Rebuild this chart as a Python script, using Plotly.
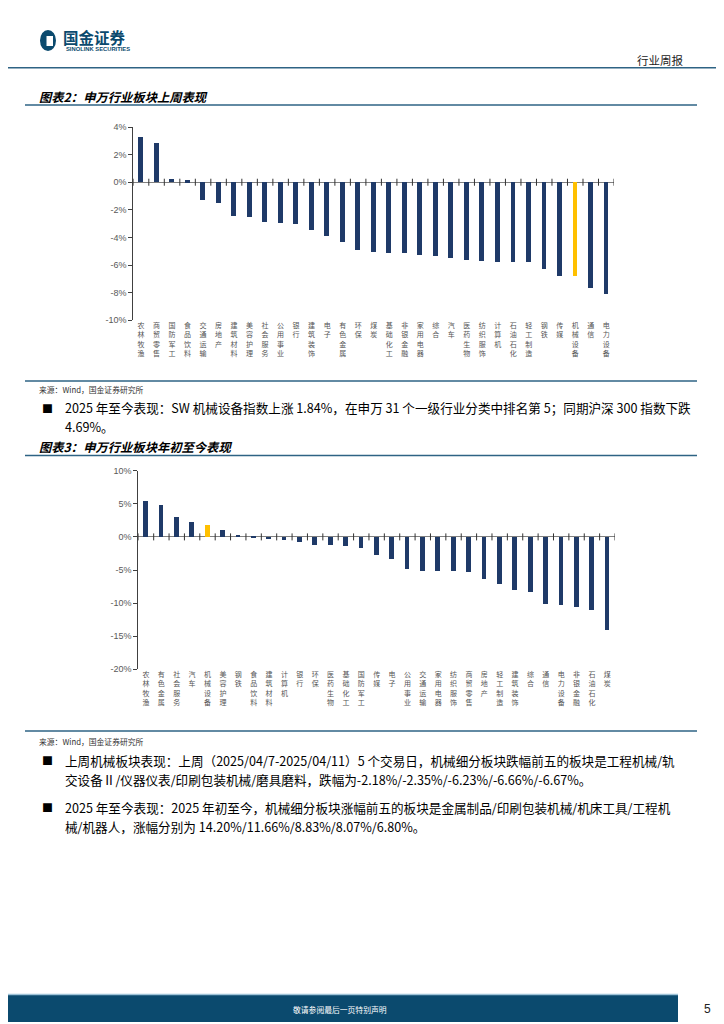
import plotly.graph_objects as go

# ---------------- data ----------------
week_categories = ["农林牧渔", "商贸零售", "国防军工", "食品饮料", "交通运输", "房地产", "建筑材料", "美容护理",
                   "社会服务", "公用事业", "银行", "建筑装饰", "电子", "有色金属", "环保", "煤炭", "基础化工",
                   "非银金融", "家用电器", "综合", "汽车", "医药生物", "纺织服饰", "计算机", "石油石化",
                   "轻工制造", "钢铁", "传媒", "机械设备", "通信", "电力设备"]
week_values = [3.25, 2.87, 0.24, 0.14, -1.28, -1.47, -2.41, -2.53, -2.87, -2.92, -3.06, -3.45, -3.93,
               -4.36, -4.92, -5.04, -5.16, -5.16, -5.30, -5.37, -5.49, -5.61, -5.71, -5.76, -5.81,
               -5.81, -6.27, -6.82, -6.82, -7.69, -8.07]

ytd_categories = ["农林牧渔", "有色金属", "社会服务", "汽车", "机械设备", "美容护理", "钢铁", "食品饮料",
                  "建筑材料", "计算机", "银行", "环保", "医药生物", "基础化工", "国防军工", "传媒", "电子",
                  "公用事业", "交通运输", "家用电器", "纺织服饰", "商贸零售", "房地产", "轻工制造",
                  "建筑装饰", "综合", "通信", "电力设备", "非银金融", "石油石化", "煤炭"]
ytd_values = [5.43, 4.92, 3.12, 2.31, 1.84, 1.16, 0.35, 0.20, -0.25, -0.35, -0.65, -1.20, -1.20, -1.40,
              -1.70, -2.70, -3.27, -4.87, -5.03, -5.03, -5.18, -5.33, -6.38, -7.14, -7.94, -8.34,
              -10.10, -10.25, -10.55, -11.06, -14.07]

week_ticks = [4, 2, 0, -2, -4, -6, -8, -10]
ytd_ticks = [10, 5, 0, -5, -10, -15, -20]
highlight = "机械设备"

# page is 724x1024; the figure sits inside the default 8px body margin
OFF = 8
W, H = 724 - OFF, 1024 - OFF
NAVY = "#1f3a68"
GOLD = "#ffc000"
TEAL = "#2e6384"


def px(x):
    return (x - OFF) / W


def py(y):
    return 1 - (y - OFF) / H


fig = go.Figure()


def add_chart(cats, vals, ticks, xa, ya, xdom, ydom):
    n = len(cats)
    xs = list(range(n))
    colors = [GOLD if c == highlight else NAVY for c in cats]
    fig.add_trace(go.Bar(x=xs, y=vals, width=0.31, marker=dict(color=colors, line=dict(width=0)),
                         xaxis=xa, yaxis=ya, showlegend=False, hoverinfo="skip"))
    # small marks on the zero line at category boundaries
    fig.add_trace(go.Scatter(x=[i - 0.5 for i in range(n + 1)], y=[0] * (n + 1), mode="markers",
                             marker=dict(symbol="line-ns", size=5, line=dict(width=1, color="#333333")),
                             xaxis=xa, yaxis=ya, showlegend=False, hoverinfo="skip"))
    xkey = "xaxis" if xa == "x" else "xaxis" + xa[1:]
    ykey = "yaxis" if ya == "y" else "yaxis" + ya[1:]
    fig.update_layout({
        xkey: dict(domain=xdom, anchor=ya, range=[-0.5, n - 0.5], tickvals=xs,
                   ticktext=["<br>".join(list(c)) for c in cats], tickangle=0,
                   showline=False, showgrid=False, zeroline=False, ticks="", automargin=False,
                   tickfont=dict(family="Noto Sans CJK SC", size=7, color="#555555")),
        ykey: dict(domain=ydom, anchor=xa, range=[min(ticks), max(ticks)], tickvals=ticks,
                   ticktext=[f"{t}%" for t in ticks], showgrid=False, showline=True, automargin=False,
                   linecolor="#404040", linewidth=1, ticks="outside", ticklen=4, tickcolor="#404040",
                   zeroline=True, zerolinecolor="#808080", zerolinewidth=1.2,
                   tickfont=dict(family="Liberation Sans", size=9, color="#595959")),
    })


add_chart(week_categories, week_values, week_ticks, "x", "y",
          [px(133.3), px(614)], [py(320.3), py(127)])
add_chart(ytd_categories, ytd_values, ytd_ticks, "x2", "y2",
          [px(138.3), px(615)], [py(669.3), py(470.7)])

shapes = []
annotations = []


def hline(y, x0, x1, color, width):
    shapes.append(dict(type="line", xref="paper", yref="paper", x0=px(x0), x1=px(x1), y0=py(y), y1=py(y),
                       line=dict(color=color, width=width)))


def text(x, y, s, size, color="#000000", family="Noto Sans CJK SC", xanchor="left"):
    annotations.append(dict(x=px(x), y=py(y), xref="paper", yref="paper", text=s, showarrow=False,
                            xanchor=xanchor, yanchor="middle",
                            font=dict(size=size, color=color, family=family)))


# header
shapes.append(dict(type="circle", xref="paper", yref="paper", x0=px(40), x1=px(56), y0=py(51), y1=py(30),
                   fillcolor="#0b4a6e", line=dict(width=0)))
shapes.append(dict(type="rect", xref="paper", yref="paper", x0=px(46.5), x1=px(53), y0=py(46), y1=py(36),
                   fillcolor="white", line=dict(width=0)))
text(61, 37.5, "<b>国金证券</b>", 15.5, "#0b4a6e")
text(64, 48.5, "<b>SINOLINK SECURITIES</b>", 5.8, "#0b4a6e", "Liberation Sans")
text(686, 60, "行业周报", 11.5, "#222222", xanchor="right")
hline(67.7, 0, 724, TEAL, 1.6)

# chart 1 titles
text(37, 97, "<b><i>图表2：申万行业板块上周表现</i></b>", 12.3)
hline(105, 25, 697, TEAL, 1.4)
hline(381, 25, 697, TEAL, 1.4)
text(37, 389, "来源：Wind，国金证券研究所", 7.8, "#333333")

text(40, 408, "■", 11)
text(63, 408, "2025 年至今表现：SW 机械设备指数上涨 1.84%，在申万 31 个一级行业分类中排名第 5；同期沪深 300 指数下跌", 12.6)
text(63, 427, "4.69%。", 12.6)

# chart 2 titles
text(37, 447, "<b><i>图表3：申万行业板块年初至今表现</i></b>", 12.3)
hline(455.5, 25, 697, TEAL, 1.4)
hline(731, 25, 697, TEAL, 1.4)
text(37, 741, "来源：Wind，国金证券研究所", 7.8, "#333333")

text(40, 760, "■", 11)
text(63, 760, "上周机械板块表现：上周（2025/04/7-2025/04/11）5 个交易日，机械细分板块跌幅前五的板块是工程机械/轨", 12.6)
text(63, 779, "交设备Ⅱ/仪器仪表/印刷包装机械/磨具磨料，跌幅为-2.18%/-2.35%/-6.23%/-6.66%/-6.67%。", 12.6)
text(40, 807, "■", 11)
text(63, 807, "2025 年至今表现：2025 年初至今，机械细分板块涨幅前五的板块是金属制品/印刷包装机械/机床工具/工程机", 12.6)
text(63, 826, "械/机器人，涨幅分别为 14.20%/11.66%/8.83%/8.07%/6.80%。", 12.6)

# footer
shapes.append(dict(type="rect", xref="paper", yref="paper", x0=px(0), x1=px(678), y0=py(1022), y1=py(994),
                   fillcolor="#0b4a6e", line=dict(width=0)))
hline(994.5, 0, 678, "#9fc3d8", 1.5)
text(340, 1009, "敬请参阅最后一页特别声明", 7.8, "#ffffff", xanchor="center")
text(707, 1009, "5", 12, "#222222", "Liberation Sans", xanchor="center")

fig.update_layout(width=W, height=H, margin=dict(l=0, r=0, t=0, b=0, pad=0, autoexpand=False),
                  paper_bgcolor="white", plot_bgcolor="white", shapes=shapes, annotations=annotations,
                  bargap=0)

fig.write_html("out.html", config={"displayModeBar": False})
